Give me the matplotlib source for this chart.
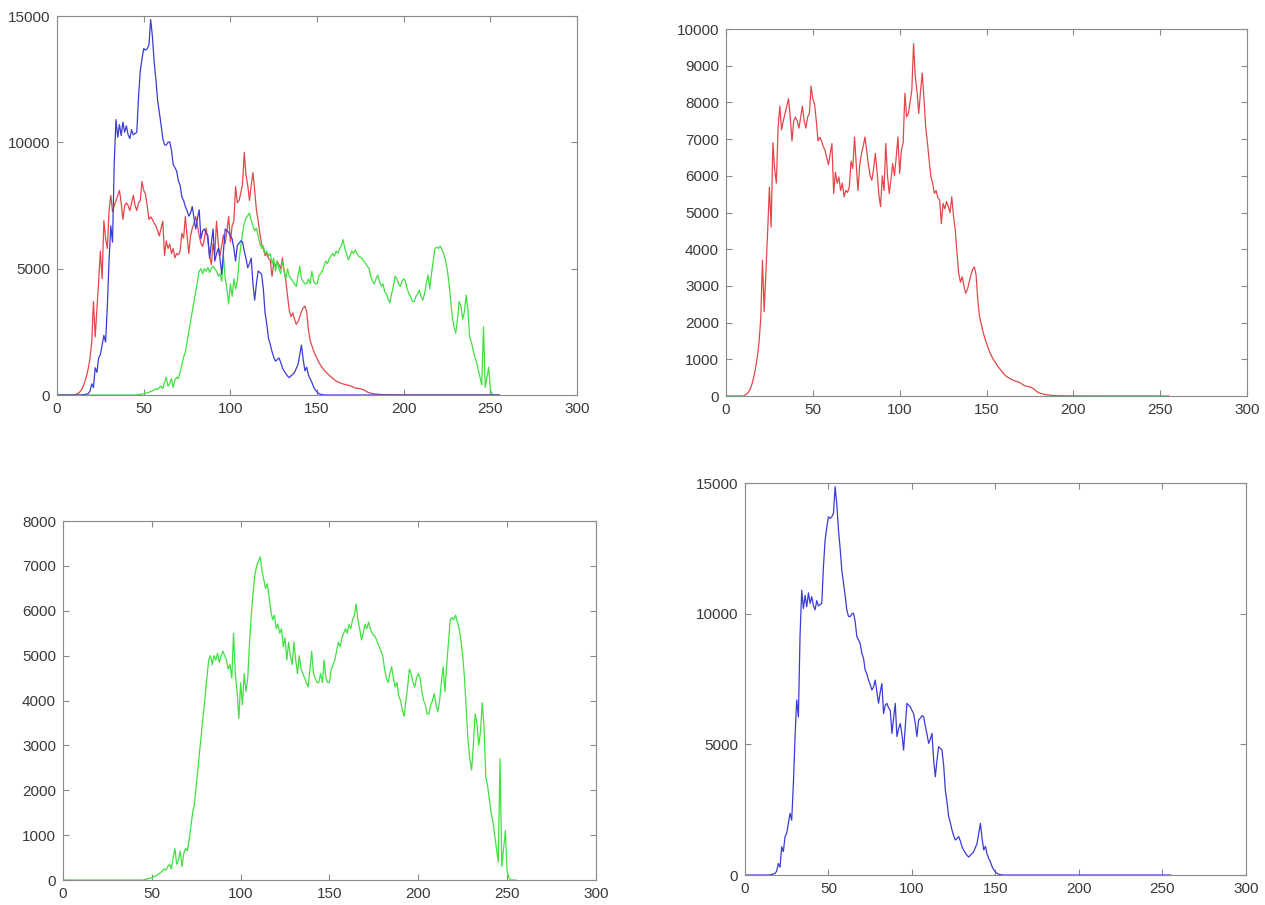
import numpy as np
import matplotlib
matplotlib.use("Agg")
import matplotlib.pyplot as plt

# histogram counts per intensity level (0..255)
levels = np.arange(256)

red = [0] * 11 + [
    30, 60, 110, 200, 330, 520, 750, 1050, 1450, 2100,            # 11-20
    3700, 2300, 3400, 4500, 5700, 4600, 6900, 6200, 5800, 7300,   # 21-30
    7900, 7250, 7500, 7700, 7900, 8100, 7600, 6950, 7500, 7600,   # 31-40
    7500, 7300, 7600, 7900, 7500, 7300, 7600, 7700, 8450, 8100,   # 41-50
    7950, 7500, 6950, 7050, 6950, 6800, 6700, 6500, 6300, 6600,   # 51-60
    6880, 5520, 6100, 5800, 5970, 5600, 5800, 5430, 5600, 5550,   # 61-70
    5700, 6400, 6200, 7060, 6300, 5600, 6300, 6600, 6800, 7060,   # 71-80
    6700, 6300, 6000, 5880, 6200, 6610, 6100, 5500, 5160, 6000,   # 81-90
    5600, 6880, 6000, 5520, 5900, 6340, 6000, 6500, 7060, 6070,   # 91-100
    6700, 6900, 8250, 7610, 7700, 8000, 8340, 9600, 8700, 8300,   # 101-110
    7700, 8300, 8800, 8100, 7330, 6900, 6400, 5970, 5800, 5520,   # 111-120
    5600, 5400, 5340, 4700, 5250, 5100, 5300, 5160, 5000, 5430,   # 121-130
    4900, 4520, 3900, 3340, 3100, 3250, 3000, 2800, 2900, 3100,   # 131-140
    3300, 3450, 3520, 3300, 2600, 2160, 1950, 1750, 1580, 1440,   # 141-150
    1300, 1180, 1080, 990, 920, 850, 780, 720, 660, 600,          # 151-160
    550, 520, 490, 460, 440, 420, 400, 390, 370, 340,             # 161-170
    310, 280, 270, 260, 245, 230, 200, 160, 120, 90,              # 171-180
    75, 60, 50, 40, 30, 25, 20, 15, 12, 10,                       # 181-190
    9, 8, 8, 7, 7, 6, 6, 5, 5, 5,                                 # 191-200
    4, 4, 4, 4, 3, 3, 3, 3, 3, 3,                                 # 201-210
    3, 3, 2, 2, 2, 2, 2, 2, 2, 2,                                 # 211-220
    2, 2, 2, 2, 2, 2, 2, 2, 2, 2,                                 # 221-230
    2, 2, 2, 2, 2, 2, 2, 2, 1, 1,                                 # 231-240
    1, 1, 1, 1, 1, 1, 1, 1, 1, 1,                                 # 241-250
    1, 1, 1, 1, 0,                                                # 251-255
]

green = [0] * 46 + [
    10, 20, 30, 40, 50, 70, 90, 110, 140, 170,                    # 46-55
    200, 250, 220, 300, 350, 250, 500, 700, 350, 450,             # 56-65
    650, 300, 600, 700, 650, 900, 1200, 1500, 1700, 2100,         # 66-75
    2500, 2900, 3300, 3700, 4100, 4500, 4900, 5000, 4800, 5000,   # 76-85
    4900, 5050, 4850, 5000, 5100, 5000, 4900, 4700, 4800, 4500,   # 86-95
    5500, 4600, 4200, 3600, 4400, 3900, 4600, 4200, 4500, 5300,   # 96-105
    5900, 6400, 6800, 7000, 7100, 7200, 6900, 6700, 6500, 6600,   # 106-115
    6300, 6000, 5800, 5900, 5600, 5700, 5500, 5600, 5200, 5400,   # 116-125
    4900, 5300, 5000, 4800, 5300, 4900, 4600, 5000, 4700, 4600,   # 126-135
    4500, 4400, 4300, 4700, 5100, 4600, 4500, 4400, 4400, 4600,   # 136-145
    4400, 4900, 4500, 4400, 4400, 4700, 4800, 4900, 5100, 5300,   # 146-155
    5200, 5400, 5500, 5600, 5500, 5700, 5600, 5800, 5900, 6150,   # 156-165
    5800, 5600, 5350, 5500, 5700, 5600, 5750, 5600, 5500, 5450,   # 166-175
    5400, 5300, 5200, 5100, 5000, 4700, 4500, 4400, 4600, 4750,   # 176-185
    4500, 4300, 4400, 4100, 4000, 3800, 3650, 4000, 4300, 4700,   # 186-195
    4600, 4400, 4300, 4500, 4600, 4500, 4200, 4000, 3900, 3700,   # 196-205
    3700, 3900, 4000, 4150, 3900, 3750, 4000, 4400, 4750, 4200,   # 206-215
    4800, 5300, 5800, 5850, 5800, 5900, 5750, 5600, 5350, 5000,   # 216-225
    4500, 3800, 3100, 2700, 2450, 3000, 3700, 3500, 3000, 3300,   # 226-235
    3950, 3400, 2300, 2100, 1800, 1500, 1300, 1000, 700, 400,     # 236-245
    2700, 300, 700, 1100, 200, 50, 0, 0, 0, 0,                    # 246-255
]

blue = [0] * 15 + [
    10, 20, 40, 60, 150, 440, 300, 1080, 900, 1470,                       # 15-24
    1600, 1980, 2360, 2100, 3500, 5300, 6700, 6050, 9200, 10900,          # 25-34
    10200, 10700, 10270, 10800, 10400, 10650, 10300, 10150, 10500, 10300,  # 35-44
    10350, 10400, 11800, 12820, 13300, 13710, 13650, 13710, 13840, 14860,  # 45-54
    14200, 13200, 12500, 11670, 11200, 10700, 10150, 9900, 9890, 10000,   # 55-64
    10020, 9700, 9120, 9000, 8860, 8480, 8300, 7840, 7700, 7460,          # 65-74
    7300, 7080, 7200, 7460, 7000, 6570, 7000, 7330, 6180, 6500,           # 75-84
    6570, 6400, 6310, 5420, 6000, 6570, 5300, 5600, 5800, 5400,           # 85-94
    4780, 5700, 6570, 6500, 6440, 6300, 6180, 5800, 5300, 5930,           # 95-104
    6000, 6100, 6060, 5700, 5400, 5040, 5200, 5420, 4400, 3760,           # 105-114
    4400, 4910, 4850, 4780, 4200, 3250, 2800, 2230, 2000, 1720,           # 115-124
    1500, 1340, 1400, 1470, 1300, 1080, 950, 850, 750, 690,               # 125-134
    760, 820, 900, 1050, 1210, 1600, 1980, 1400, 960, 1100,               # 135-144
    800, 640, 500, 320, 200, 120, 60, 30, 15, 5,                          # 145-154
] + [0] * 101

assert len(red) == len(green) == len(blue) == 256

red_c = "#e4464a"
green_c = "#3fe23f"
blue_c = "#3b3bd6"


def style(ax, ymax, ystep):
    ax.set_xlim(0, 300)
    ax.set_ylim(0, ymax)
    ax.set_xticks(range(0, 301, 50))
    ax.set_yticks(range(0, ymax + 1, ystep))
    ax.tick_params(direction="in", top=True, right=True, length=4, width=0.8,
                   color="#8a8a8a", labelcolor="#3a3a3a", labelsize=11, pad=5)
    for s in ax.spines.values():
        s.set_color("#8a8a8a")
        s.set_linewidth(0.8)


plt.rcParams["font.family"] = ["Liberation Sans", "DejaVu Sans"]
fig = plt.figure(figsize=(12.65, 9.05), dpi=100)

# all three channels
ax1 = fig.add_axes([0.0451, 0.5635, 0.4111, 0.4188])
ax1.plot(levels, red, color=red_c, lw=0.9)
ax1.plot(levels, green, color=green_c, lw=0.9)
ax1.plot(levels, blue, color=blue_c, lw=0.9)
style(ax1, 15000, 5000)

# red only
ax2 = fig.add_axes([0.5739, 0.5624, 0.4119, 0.4055])
ax2.plot(levels, red, color=red_c, lw=0.9)
style(ax2, 10000, 1000)

# green only
ax3 = fig.add_axes([0.0498, 0.0276, 0.4213, 0.3967])
ax3.plot(levels, green, color=green_c, lw=0.9)
style(ax3, 8000, 1000)

# blue only
ax4 = fig.add_axes([0.5889, 0.0331, 0.3960, 0.4331])
ax4.plot(levels, blue, color=blue_c, lw=0.9)
style(ax4, 15000, 5000)

fig.savefig("out.png", dpi=100, facecolor="white")
